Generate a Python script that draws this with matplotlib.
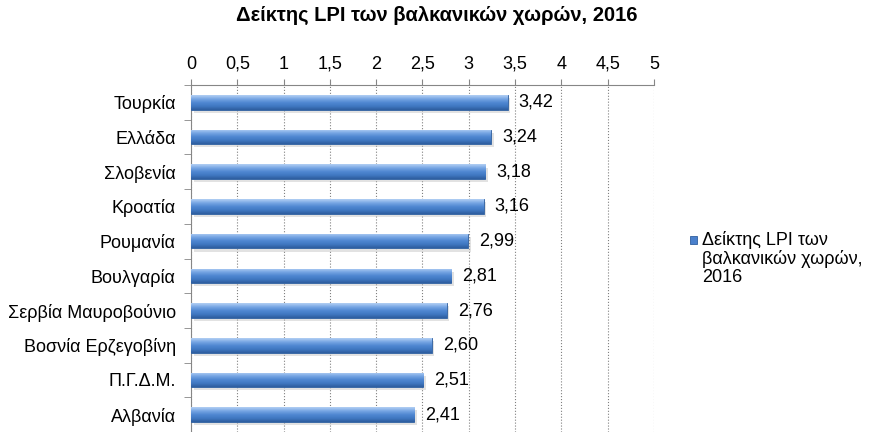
import numpy as np
import matplotlib.pyplot as plt
from matplotlib.colors import LinearSegmentedColormap

plt.rcParams['font.family'] = ['Liberation Sans', 'DejaVu Sans']

# data
countries = ['Τουρκία', 'Ελλάδα', 'Σλοβενία', 'Κροατία', 'Ρουμανία', 'Βουλγαρία',
             'Σερβία Μαυροβούνιο', 'Βοσνία Ερζεγοβίνη', 'Π.Γ.Δ.Μ.', 'Αλβανία']
lpi = [3.42, 3.24, 3.18, 3.16, 2.99, 2.81, 2.76, 2.60, 2.51, 2.41]
xticks = [0, 0.5, 1, 1.5, 2, 2.5, 3, 3.5, 4, 4.5, 5]
xtick_labels = ['0', '0,5', '1', '1,5', '2', '2,5', '3', '3,5', '4', '4,5', '5']
series_name = 'Δείκτης LPI των\nβαλκανικών χωρών,\n2016'
title = 'Δείκτης LPI των βαλκανικών χωρών, 2016'

fs = 13

fig = plt.figure(figsize=(8.74, 4.32), dpi=100)
ax = fig.add_axes([0.2185, 0.0, 0.5297, 0.8032])

y = np.arange(len(countries))
h = 0.42

# gradient for the bars (light top -> darker bottom)
cmap = LinearSegmentedColormap.from_list('bar', ['#b4d0f4', '#78a6e4', '#5088d2', '#4078c2', '#2d5d9e'])
grad = np.linspace(0, 1, 64).reshape(-1, 1)

# soft shadow under the bars
ax.barh(y + 0.09, lpi, height=h, color='#c0c0c0', alpha=0.45, zorder=2, left=0.03)
bars = ax.barh(y, lpi, height=h, color='#4a80cc', edgecolor='#2f5f9f', linewidth=0.6, zorder=3)
for b, v, yy in zip(bars, lpi, y):
    im = ax.imshow(grad, cmap=cmap, aspect='auto', extent=(0, v, yy + h / 2, yy - h / 2),
                   zorder=3.5, interpolation='bicubic')
    im.set_clip_path(b)
    ax.text(v + 0.12, yy, f'{v:.2f}'.replace('.', ','), va='center', ha='left', fontsize=fs, zorder=5)

ax.set_xlim(0, 5)
ax.set_ylim(len(countries) - 0.5, -0.5)
ax.xaxis.tick_top()
ax.set_xticks(xticks)
ax.set_xticklabels(xtick_labels, fontsize=fs)
ax.tick_params(axis='x', direction='out', length=4, color='#868686', pad=5)
ax.set_yticks(y)
ax.set_yticklabels(countries, fontsize=fs)
ax.set_yticks(np.arange(len(countries) + 1) - 0.5, minor=True)
ax.tick_params(axis='y', which='major', length=0, pad=11)
ax.tick_params(axis='y', which='minor', direction='out', length=5, color='#868686')
ax.grid(axis='x', linestyle=':', color='#808080', linewidth=0.8, zorder=0)
ax.set_axisbelow(True)
for s in ['right', 'bottom']:
    ax.spines[s].set_visible(False)
for s in ['top', 'left']:
    ax.spines[s].set_color('#868686')

fig.text(0.5, 0.965, title, ha='center', va='center', fontsize=14.5, fontweight='bold')

# legend
fig.patches.append(plt.Rectangle((0.789, 0.436), 0.0085, 0.017, transform=fig.transFigure,
                                 facecolor='#4a80cc', edgecolor='#2f5f9f', linewidth=0.6))
fig.text(0.803, 0.466, series_name, ha='left', va='top', fontsize=fs, linespacing=1.1)

fig.savefig('out.png', dpi=100)
